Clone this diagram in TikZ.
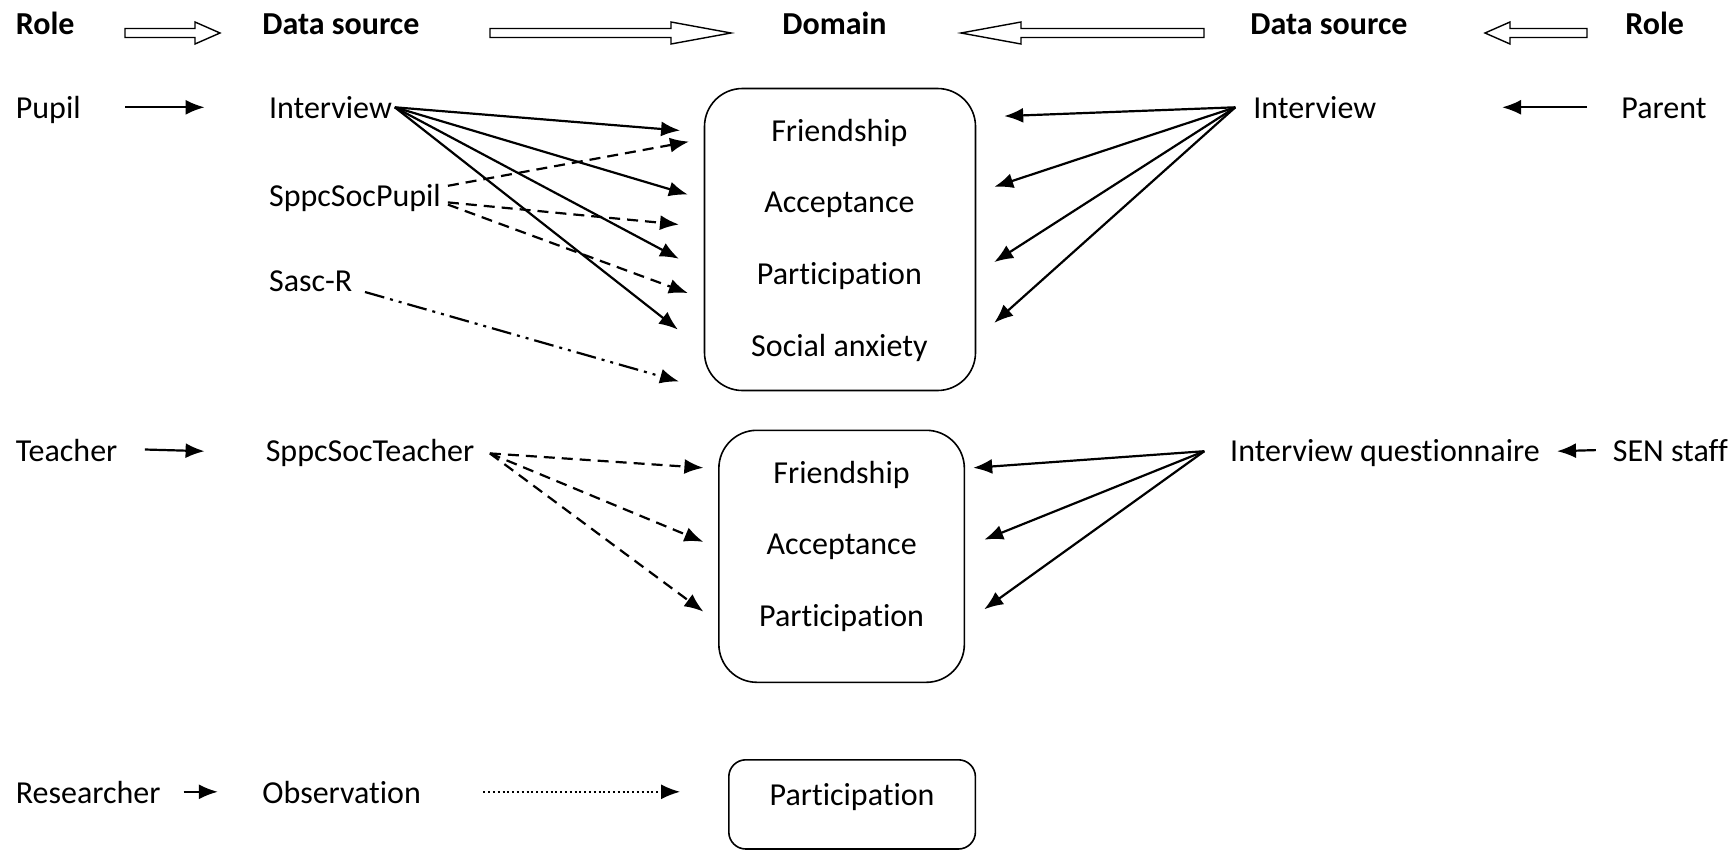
\documentclass[tikz,border=0pt]{standalone}
\usepackage{fontspec}
\setmainfont{Carlito}[Ligatures={NoCommon,NoContextual}]
\usetikzlibrary{arrows.meta}
\newcommand\partword{Part\kern0pt icipat\kern0pt ion}
\begin{document}
\begin{tikzpicture}[x=0.5pt,y=-0.5pt,
  txt/.style={anchor=base west, inner sep=0pt, font=\fontsize{16}{19}\selectfont},
  hdr/.style={anchor=base west, inner sep=0pt, font=\fontsize{16}{19}\selectfont\bfseries},
  dom/.style={anchor=base, inner sep=0pt, font=\fontsize{16}{19}\selectfont},
  box/.style={draw, line width=0.8pt, rounded corners=19pt, inner sep=0pt},
  conn/.style={line width=1.1pt, -{Latex[length=9.5pt,width=7.5pt]}},
  dsh/.style={conn, dash pattern=on 5.5pt off 3.5pt},
  ddot/.style={conn, dash pattern=on 10pt off 3pt on 1.5pt off 3pt on 1.5pt off 3pt},
  dtd/.style={conn, line width=0.9pt, dash pattern=on 1pt off 1.4pt},
  hollow/.style={draw, line width=0.7pt, fill=white, line join=miter}]
\useasboundingbox (0,0) rectangle (1734,851);

% headers
\node[hdr] (hRoleL) at (15.5,34.3) {Role};
\node[hdr] (hDSL) at (262,34.3) {Data source};
\node[hdr] (hDom) at (782,34.3) {Domain};
\node[hdr] (hDSR) at (1250,34.3) {Data source};
\node[hdr] (hRoleR) at (1625,34.3) {Role};

\path[hollow] (125,28.5) -- (195,28.5) -- (195,22) -- (220,33) -- (195,44) -- (195,37.5) -- (125,37.5) -- cycle;
\path[hollow] (490,28.5) -- (671,28.5) -- (671,22) -- (731,33) -- (671,44) -- (671,37.5) -- (490,37.5) -- cycle;
\path[hollow] (1204,28.5) -- (1021,28.5) -- (1021,22) -- (961,33) -- (1021,44) -- (1021,37.5) -- (1204,37.5) -- cycle;
\path[hollow] (1587,28.5) -- (1510,28.5) -- (1510,22) -- (1485,33) -- (1510,44) -- (1510,37.5) -- (1587,37.5) -- cycle;

% boxes
\node[box, minimum width=135.5pt, minimum height=151pt] (box1) at (840,239.5) {};
\node[box, minimum width=122.75pt, minimum height=126pt] (box2) at (841.6,556.3) {};
\node[box, rounded corners=8.5pt, minimum width=123.3pt, minimum height=44.6pt] (box3) at (852.1,804.4) {};

\node[dom] (b1f) at (839.4,141.9) {Friendship};
\node[dom] (b1a) at (839.4,212.7) {Acceptance};
\node[dom] (b1p) at (839.4,284.6) {\partword};
\node[dom] (b1s) at (839.4,356.4) {Social anxiety};
\node[dom] (b2f) at (841.6,483.6) {Friendship};
\node[dom] (b2a) at (841.6,554.4) {Acceptance};
\node[dom] (b2p) at (841.6,626.3) {\partword};
\node[dom] (b3p) at (852.1,805.4) {\partword};

% left texts
\node[txt] (pupil) at (15.5,118.7) {Pupil};
\node[txt] (intL) at (268.7,118.7) {Interview};
\node[txt] (sppcP) at (268.7,206) {SppcSocPupil};
\node[txt] (sasc) at (268.7,291.2) {Sasc-R};
\node[txt] (teacher) at (15.5,461.5) {Teacher};
\node[txt] (sppcT) at (265.4,461.5) {SppcSocTeacher};
\node[txt] (researcher) at (15.5,803.2) {Researcher};
\node[txt] (obs) at (262,803.2) {Observation};

% right texts
\node[txt] (intR) at (1253,118.7) {Interview};
\node[txt] (parent) at (1621,118.7) {Parent};
\node[txt] (intQ) at (1229.8,461.5) {Interview questionnaire};
\node[txt] (sen) at (1612.4,461.5) {SEN staff};

% coordinates
\coordinate (pupilA) at (125,107.3);
\coordinate (pupilB) at (204.6,107.3);
\coordinate (parentA) at (1587,107.3);
\coordinate (parentB) at (1502,107.3);
\coordinate (teacherA) at (144.9,449.5);
\coordinate (teacherB) at (204.6,451.2);
\coordinate (senA) at (1595.8,450.1);
\coordinate (senB) at (1557,451.2);
\coordinate (resA) at (183.6,791.8);
\coordinate (resB) at (217.9,791.8);

\coordinate (iLo) at (394.8,107.3);
\coordinate (e1) at (680.1,130.5);
\coordinate (e2) at (687.9,194.6);
\coordinate (e3) at (679,258.8);
\coordinate (e4) at (677.9,329.6);
\coordinate (sPo1) at (447.9,185.8);
\coordinate (sPo2) at (447.9,202.4);
\coordinate (sPo3) at (447.9,204.6);
\coordinate (d1) at (689,141.6);
\coordinate (d2) at (679,224.5);
\coordinate (d3) at (687.9,293.1);
\coordinate (saO) at (365,292);
\coordinate (saE) at (679,381.5);

\coordinate (iRo) at (1235.3,107.3);
\coordinate (r1) at (1004.2,116.1);
\coordinate (r2) at (994.2,186.9);
\coordinate (r3) at (994.2,262.1);
\coordinate (r4) at (994.2,322.9);

\coordinate (sTo) at (489.9,453.4);
\coordinate (t1) at (703.4,467.8);
\coordinate (t2) at (703.4,541.9);
\coordinate (t3) at (703.4,611.6);

\coordinate (iQo) at (1204.3,451.2);
\coordinate (q1) at (973.2,467.8);
\coordinate (q2) at (984.2,539.7);
\coordinate (q3) at (984.2,609.3);

\coordinate (obsA) at (483.3,791.8);
\coordinate (obsB) at (680.1,791.8);

% role arrows
\draw[conn] (pupilA) -- (pupilB);
\draw[conn] (parentA) -- (parentB);
\draw[conn] (teacherA) -- (teacherB);
\draw[conn] (senA) -- (senB);
\draw[conn] (resA) -- (resB);

% pupil interview
\draw[conn] (iLo) -- (e1);
\draw[conn] (iLo) -- (e2);
\draw[conn] (iLo) -- (e3);
\draw[conn] (iLo) -- (e4);
% SppcSocPupil
\draw[dsh] (sPo1) -- (d1);
\draw[dsh] (sPo2) -- (d2);
\draw[dsh] (sPo3) -- (d3);
% Sasc-R
\draw[ddot] (saO) -- (saE);
% parent interview
\draw[conn] (iRo) -- (r1);
\draw[conn] (iRo) -- (r2);
\draw[conn] (iRo) -- (r3);
\draw[conn] (iRo) -- (r4);
% teacher
\draw[dsh] (sTo) -- (t1);
\draw[dsh] (sTo) -- (t2);
\draw[dsh] (sTo) -- (t3);
% SEN staff
\draw[conn] (iQo) -- (q1);
\draw[conn] (iQo) -- (q2);
\draw[conn] (iQo) -- (q3);
% observation
\draw[dtd] (obsA) -- (obsB);
\end{tikzpicture}
\end{document}
